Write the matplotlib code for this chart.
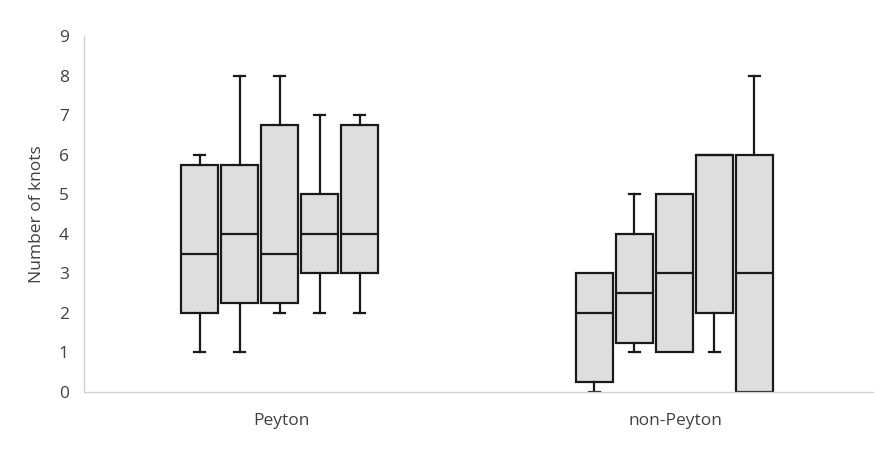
import matplotlib
matplotlib.use("Agg")
import matplotlib.pyplot as plt

plt.rcParams['font.family'] = ['Open Sans', 'DejaVu Sans']

categories = ["Peyton", "non-Peyton"]
# per category: five boxes (whisker low, Q1, median, Q3, whisker high)
peyton_low = [1, 1, 2, 2, 2]
peyton_q1 = [2, 2.25, 2.25, 3, 3]
peyton_med = [3.5, 4, 3.5, 4, 4]
peyton_q3 = [5.75, 5.75, 6.75, 5, 6.75]
peyton_high = [6, 8, 8, 7, 7]

nonp_low = [0, 1, 1, 1, 0]
nonp_q1 = [0.25, 1.25, 1, 2, 0]
nonp_med = [2, 2.5, 3, 6, 3]
nonp_q3 = [3, 4, 5, 6, 6]
nonp_high = [3, 5, 5, 6, 8]

yticks = list(range(0, 10))

groups = [
    (peyton_low, peyton_q1, peyton_med, peyton_q3, peyton_high),
    (nonp_low, nonp_q1, nonp_med, nonp_q3, nonp_high),
]

fig = plt.figure(figsize=(8.74, 4.76), dpi=100)
ax = fig.add_axes([84/874, 1-392/476, (873-84)/874, (392-36)/476])

spacing = 0.1015
width = 0.094
edge = "#1a1a1a"
fill = "#dedede"
textc = "#404040"

for ci, (lo, q1, med, q3, hi) in enumerate(groups):
    stats = []
    positions = []
    for j in range(len(lo)):
        stats.append(dict(whislo=lo[j], q1=q1[j], med=med[j], q3=q3[j], whishi=hi[j], fliers=[]))
        positions.append(ci + 1 - 0.004 + (j - 2) * spacing)
    res = ax.bxp(stats, positions=positions, widths=width, patch_artist=True, showfliers=False,
                 manage_ticks=False,
                 boxprops=dict(facecolor=fill, edgecolor=edge, linewidth=1.6),
                 medianprops=dict(color=edge, linewidth=1.6),
                 whiskerprops=dict(color=edge, linewidth=1.6),
                 capprops=dict(color=edge, linewidth=1.6),
                 capwidths=0.028)
    for j in range(len(lo)):
        if lo[j] == q1[j]:
            res['caps'][2 * j].set_visible(False)
        if hi[j] == q3[j]:
            res['caps'][2 * j + 1].set_visible(False)

ax.set_xlim(0.5, 2.5)
ax.set_ylim(0, 9)
ax.set_yticks(yticks)
ax.set_xticks([1, 2])
ax.set_xticklabels(categories)
ax.tick_params(axis='both', length=0, labelsize=12.5, colors=textc)
ax.tick_params(axis='y', pad=11)
ax.tick_params(axis='x', pad=15)
ax.set_ylabel("Number of knots", fontsize=12.5, color=textc, labelpad=10)

for s in ["top", "right"]:
    ax.spines[s].set_visible(False)
ax.spines["left"].set_color("#d0d0d0")
ax.spines["bottom"].set_color("#d0d0d0")
ax.spines["left"].set_linewidth(1.0)
ax.spines["bottom"].set_linewidth(1.0)

fig.savefig("out.png", dpi=100)
